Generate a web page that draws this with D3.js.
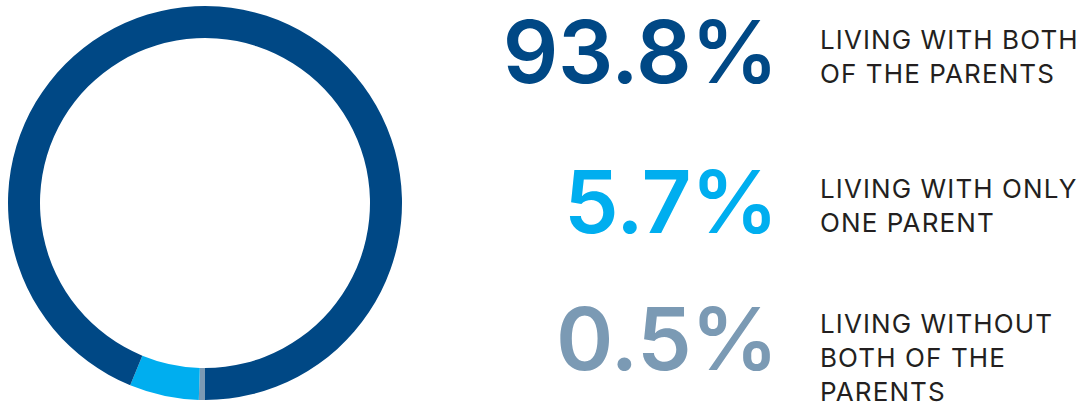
<!DOCTYPE html>
<html>
<head>
<meta charset="utf-8">
<script src="https://cdn.jsdelivr.net/npm/d3@7"></script>
<style>
  html, body { margin: 0; padding: 0; background: #fff; }
</style>
</head>
<body>
<div id="chart"></div>
<script>
// data
var categories = ["without", "one", "both"];
var values = [0.5, 5.7, 93.8];
var valueLabels = ["0.5%", "5.7%", "93.8%"];
var descriptions = [
  ["LIVING WITHOUT", "BOTH OF THE", "PARENTS"],
  ["LIVING WITH ONLY", "ONE PARENT"],
  ["LIVING WITH BOTH", "OF THE PARENTS"]
];
var colors = ["#7b9ab4", "#00aeef", "#004885"];

var width = 1091, height = 408;

var svg = d3.select("#chart")
  .append("svg")
    .attr("width", width)
    .attr("height", height);

// donut
var cx = 205, cy = 203, outerR = 197, innerR = 165;

var pie = d3.pie()
  .sort(null)
  .startAngle(Math.PI)
  .endAngle(Math.PI * 3)
  .value(function(d) { return d; });

var arc = d3.arc()
  .innerRadius(innerR)
  .outerRadius(outerR);

svg.append("g")
    .attr("transform", "translate(" + cx + "," + cy + ")")
  .selectAll("path")
  .data(pie(values))
  .enter().append("path")
    .attr("d", arc)
    .attr("fill", function(d, i) { return colors[i]; });

// legend rows, top to bottom: both, one, without
var rowBase = { both: 83, one: 233, without: 370 };
var descBase = { both: 49, one: 198, without: 333 };

var rows = svg.selectAll(".row")
  .data(categories)
  .enter().append("g")
    .attr("class", "row");

rows.append("text")
    .attr("x", 778)
    .attr("y", function(d) { return rowBase[d]; })
    .attr("text-anchor", "end")
    .attr("font-family", "Inter, sans-serif")
    .attr("font-weight", 600)
    .attr("font-size", 87)
    .attr("letter-spacing", -0.5)
    .attr("fill", function(d, i) { return colors[i]; })
    .text(function(d, i) { return valueLabels[i]; });

rows.each(function(d, i) {
  var t = d3.select(this).append("text")
      .attr("font-family", "Inter, sans-serif")
      .attr("font-size", 26)
      .attr("letter-spacing", 1.1)
      .attr("fill", "#231f20");
  t.selectAll("tspan")
    .data(descriptions[i])
    .enter().append("tspan")
      .attr("x", 820)
      .attr("y", function(line, j) { return descBase[d] + j * 34; })
      .text(function(line) { return line; });
});
</script>
</body>
</html>
